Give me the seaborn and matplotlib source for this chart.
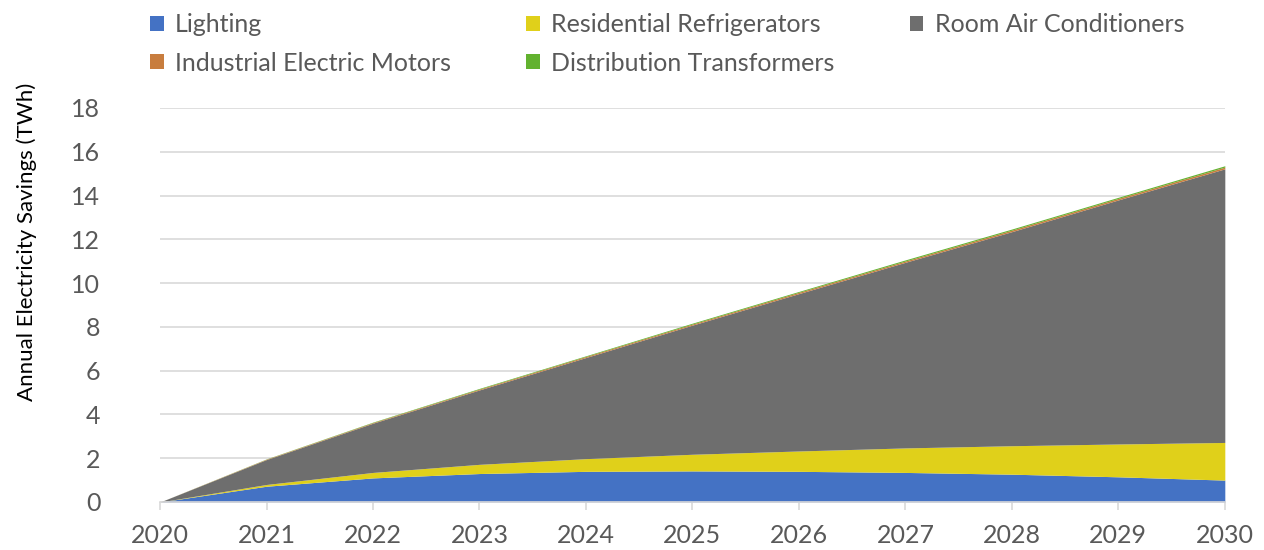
import numpy as np
import matplotlib
matplotlib.use("Agg")
import matplotlib.pyplot as plt
import seaborn as sns

years = [2020, 2021, 2022, 2023, 2024, 2025, 2026, 2027, 2028, 2029, 2030]
lighting = [0, 0.72, 1.10, 1.30, 1.40, 1.42, 1.40, 1.35, 1.27, 1.15, 1.00]
refrigerators = [0, 0.08, 0.25, 0.42, 0.58, 0.76, 0.93, 1.12, 1.30, 1.50, 1.72]
room_ac = [0, 1.14, 2.25, 3.40, 4.62, 5.90, 7.19, 8.48, 9.78, 11.15, 12.50]
motors = [0, 0.02, 0.03, 0.04, 0.05, 0.05, 0.06, 0.06, 0.07, 0.07, 0.08]
transformers = [0, 0.01, 0.02, 0.03, 0.03, 0.04, 0.04, 0.05, 0.05, 0.05, 0.06]

labels = ["Lighting", "Residential Refrigerators", "Room Air Conditioners",
          "Industrial Electric Motors", "Distribution Transformers"]
colors = ["#4472C4", "#E0D01A", "#6E6E6E", "#C87D3E", "#62B22F"]

sns.set_theme(style="white")
plt.rcParams['font.family'] = ['Lato', 'DejaVu Sans']
text_col = "#595959"

fig = plt.figure(figsize=(12.64, 5.5), dpi=100)
ax = fig.add_axes([0.1266, 0.0873, 0.8424, 0.7164])

polys = ax.stackplot(years, lighting, refrigerators, room_ac, motors, transformers,
                     colors=colors, labels=labels, linewidth=0)

ax.set_xlim(2020, 2030)
ax.set_ylim(0, 18)
ax.set_xticks(years)
ax.set_yticks(range(0, 19, 2))
ax.grid(axis="y", color="#D9D9D9", linewidth=1.2)
ax.set_axisbelow(True)
sns.despine(ax=ax, left=True, top=True, right=True)
ax.spines["bottom"].set_color("#D9D9D9")
ax.spines["bottom"].set_linewidth(1.2)
ax.tick_params(axis="x", bottom=True, length=6, width=1.2, color="#D9D9D9",
               labelsize=18, labelcolor=text_col, pad=10)
ax.tick_params(axis="y", left=False, labelsize=18, labelcolor=text_col, pad=37)
ax.set_ylabel("Annual Electricity Savings (TWh)", fontsize=16, color="black")
ax.yaxis.set_label_coords(-0.1155, 0.66)

# legend order so column-wise fill gives the reference's rows
order = [0, 3, 1, 4, 2]
handles, labs = ax.get_legend_handles_labels()
fig.legend([handles[i] for i in order], [labs[i] for i in order],
           loc="upper left", bbox_to_anchor=(0.101, 1.017), ncol=3, frameon=False,
           fontsize=18, labelcolor=text_col, handlelength=0.55, handleheight=0.55,
           handletextpad=0.45, columnspacing=3.0, labelspacing=0.62)

fig.savefig("out.png", dpi=100)
